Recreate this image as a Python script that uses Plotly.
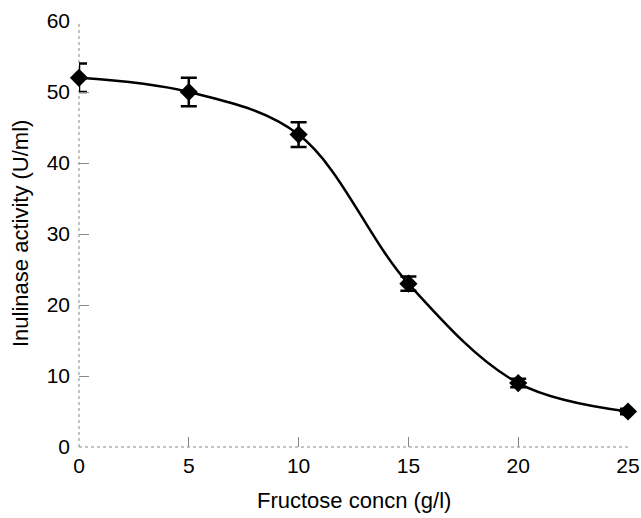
import plotly.graph_objects as go

fructose = [0, 5, 10, 15, 20, 25]
activity = [52, 50, 44, 23, 9, 5]
error = [2, 2, 1.75, 1, 0.6, 0.4]
x_ticks = [0, 5, 10, 15, 20, 25]
y_ticks = [0, 10, 20, 30, 40, 50, 60]

fig = go.Figure()
fig.add_trace(go.Scatter(
    x=fructose, y=activity,
    mode="lines+markers",
    line=dict(color="black", width=2.5, shape="spline", smoothing=1.0),
    marker=dict(symbol="diamond", size=14, color="black"),
    error_y=dict(type="data", array=error, visible=True, color="black",
                 thickness=2.5, width=8),
    cliponaxis=False,
    showlegend=False,
))

family = "Liberation Sans, Arial, sans-serif"
tickfont = dict(family=family, size=21, color="black")
titlefont = dict(family=family, size=22, color="black")

fig.update_layout(
    width=641, height=518,
    margin=dict(l=79, r=13, t=21, b=71, autoexpand=False),
    paper_bgcolor="white", plot_bgcolor="white",
    xaxis=dict(range=[0, 25], tickvals=x_ticks, ticks="inside", ticklen=10,
               tickcolor="#888", tickwidth=1, showgrid=False, zeroline=False,
               showline=False, automargin=False, tickfont=tickfont,
               ticklabelstandoff=4, ticklabeloverflow="allow"),
    yaxis=dict(range=[0, 60], tickvals=y_ticks, ticks="inside", ticklen=10,
               tickcolor="#888", tickwidth=1, showgrid=False, zeroline=False,
               showline=False, automargin=False, tickfont=tickfont,
               ticklabelstandoff=8, ticklabeloverflow="allow"),
    shapes=[
        dict(type="line", xref="x domain", yref="y domain", x0=0, x1=0, y0=0, y1=1,
             line=dict(color="#888", width=1, dash="dot"), layer="below"),
        dict(type="line", xref="x domain", yref="y domain", x0=0, x1=1, y0=0, y1=0,
             line=dict(color="#888", width=1, dash="dot"), layer="below"),
    ],
    annotations=[
        dict(text="Fructose concn (g/l)", xref="paper", yref="paper",
             x=0.5, y=0, yshift=-53, xanchor="center", yanchor="middle",
             showarrow=False, font=titlefont),
        dict(text="Inulinase activity (U/ml)", xref="paper", yref="paper",
             x=0, y=0.5, xshift=-59, xanchor="center", yanchor="middle",
             textangle=-90, showarrow=False, font=titlefont),
    ],
)

fig.write_html(
    "out.html",
    config={"displayModeBar": False},
    post_script="document.body.style.margin='0';document.body.style.overflow='hidden';",
)
